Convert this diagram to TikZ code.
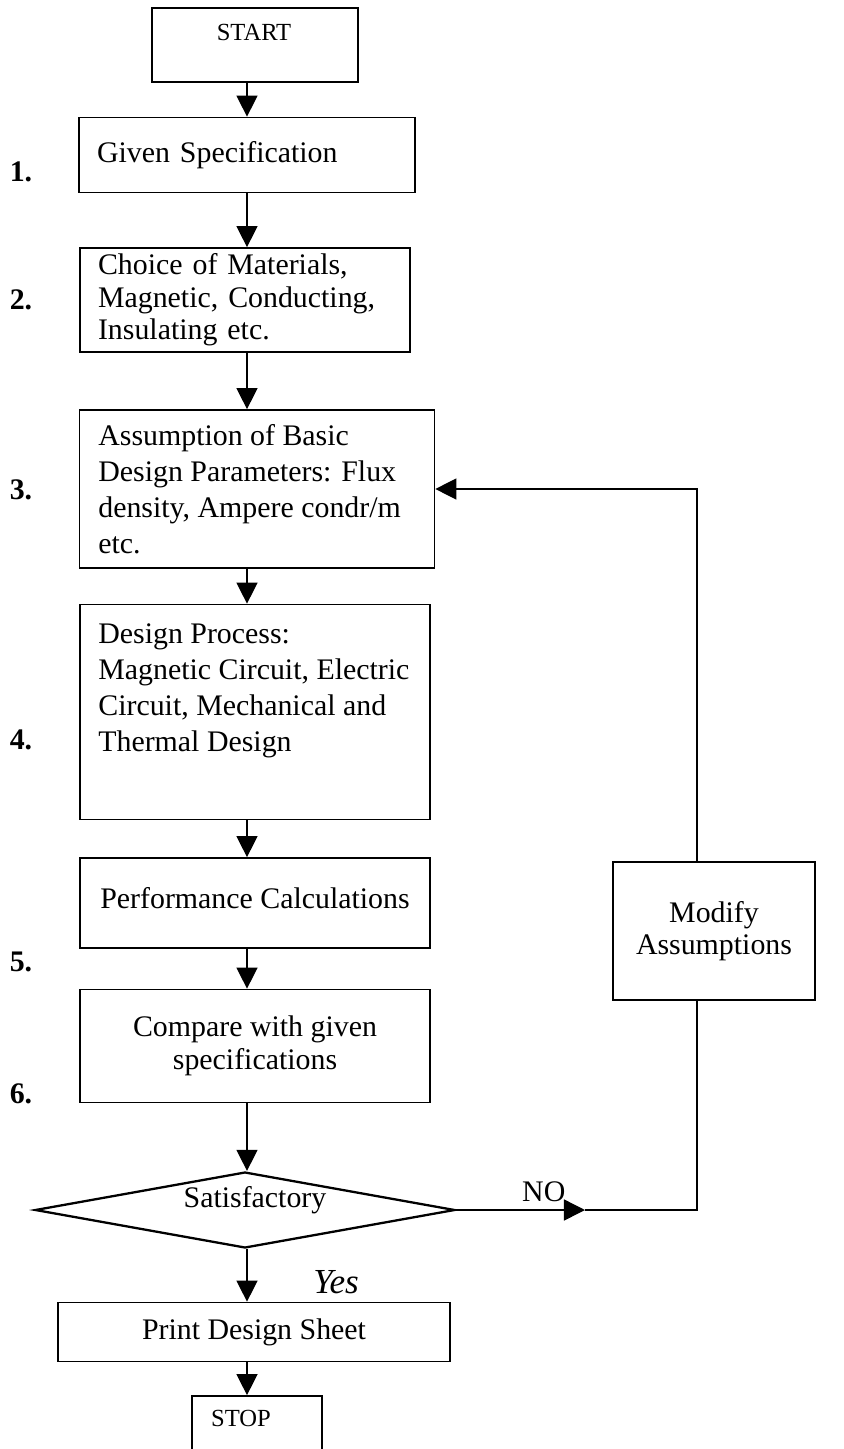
\documentclass[tikz,border=0pt]{standalone}
\usepackage{fontspec}
\setmainfont{Liberation Serif}
\usetikzlibrary{shapes.geometric,arrows.meta,positioning,calc}

\begin{document}
\begin{tikzpicture}[
  x=0.02cm, y=-0.02cm,
  box/.style={draw,line width=1pt,inner sep=0pt,font=\fontsize{17}{18.5}\selectfont},
  txt/.style={inner sep=0pt,align=left,font=\fontsize{17}{20.5}\selectfont},
  endbox/.style={draw,line width=1pt,inner sep=0pt},
  small/.style={inner sep=0pt,font=\fontsize{14}{16}\selectfont},
  num/.style={inner sep=0pt,font=\bfseries\fontsize{17}{19}\selectfont},
  decision/.style={draw,diamond,line width=1.3pt,inner sep=0pt,minimum width=8.4cm,minimum height=1.52cm},
  arr/.style={-{Triangle[length=12pt,width=12pt]},line width=0.8pt},
  line/.style={line width=0.8pt}
]
\clip (0,0) rectangle (844,1449);
\fill[white] (0,0) rectangle (844,1449);

% main column and loop line
\coordinate (col) at (247,0);
\coordinate (back) at (697,0);

\node[endbox,minimum width=4.12cm,minimum height=1.48cm] (start) at (255,45) {};
\node[small] (starttxt) at (254,32) {START};

\node[box,minimum width=6.72cm,minimum height=1.5cm,text width=6cm,align=left] (spec) at (247,155) {Given Specification};

\node[box,minimum width=6.6cm,minimum height=2.08cm,text width=5.88cm,align=left] (mat) at (245,300)
  {Choice of Materials,\\Magnetic, Conducting,\\Insulating etc.};

\node[box,minimum width=7.1cm,minimum height=3.16cm] (assum) at (257,489) {};
\node[txt,anchor=north west] (assumtxt) at (98,424)
  {Assumption of Basic\\Design Parameters: Flux\\density, Ampere condr/m\\etc.};

\node[box,minimum width=7cm,minimum height=4.3cm] (proc) at (255,712) {};
\node[txt,anchor=north west] (proctxt) at (98,623)
  {Design Process:\\Magnetic Circuit, Electric\\Circuit, Mechanical and\\Thermal Design};

\node[box,minimum width=7cm,minimum height=1.8cm] (perf) at (255,903) {\raisebox{6pt}{Performance Calculations}};

\node[box,minimum width=7cm,minimum height=2.26cm,align=center] (comp) at (255,1046)
  {Compare with given\\specifications};

\node[box,minimum width=4.04cm,minimum height=2.76cm,align=center] (mod) at (714,931)
  {Modify\\Assumptions};

\node[decision] (dia) at (245,1210) {};
\node[txt] (diatxt) at (255,1200) {Satisfactory};

\node[box,minimum width=7.84cm,minimum height=1.18cm] (print) at (254,1332) {Print Design Sheet};

\node[endbox,minimum width=2.6cm,minimum height=1.48cm] (stop) at (257,1433) {};
\node[small] (stoptxt) at (241,1418) {STOP};

% step numbers
\node[num] (n1) at (21,172) {1.};
\node[num] (n2) at (21,300) {2.};
\node[num] (n3) at (21,490) {3.};
\node[num] (n4) at (21,740) {4.};
\node[num] (n5) at (21,962) {5.};
\node[num] (n6) at (21,1094) {6.};

% connectors
\draw[arr] (start.south -| col) -- (spec.north -| col);
\draw[arr] (spec.south -| col) -- (mat.north -| col);
\draw[arr] (mat.south -| col) -- (assum.north -| col);
\draw[arr] (assum.south -| col) -- (proc.north -| col);
\draw[arr] (proc.south -| col) -- (perf.north -| col);
\draw[arr] (perf.south -| col) -- (comp.north -| col);
\draw[arr] (comp.south -| col) -- (dia.north -| col);
\draw[arr] (dia.south -| col) -- (print.north -| col)
  node[pos=0.62,right=34pt,font=\itshape\fontsize{20}{22}\selectfont]{Yes};
\draw[arr] (print.south -| col) -- (stop.north -| col);

% NO branch back to the assumptions
\coordinate (notip) at (585,1210);
\draw[arr] (dia.east) -- (notip)
  node[pos=0.68,above=1pt,font=\fontsize{17}{19}\selectfont]{NO};
\draw[line] (notip) -- (notip -| back) -- (mod.south -| back);
\draw[arr] (mod.north -| back) |- (assum.east);
\end{tikzpicture}
\end{document}
